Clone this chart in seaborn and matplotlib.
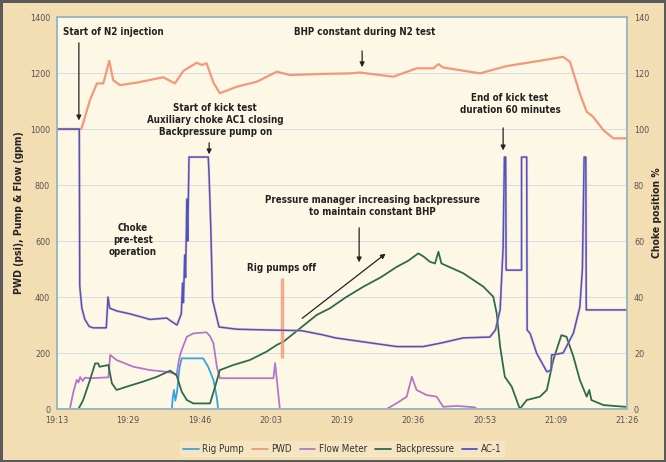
import matplotlib
matplotlib.use("Agg")
import matplotlib.pyplot as plt
from matplotlib.lines import Line2D
import seaborn as sns
import pandas as pd

# --------------------
# Data (time = minutes after 19:13)
# --------------------

tick_labels = ['19:13', '19:29', '19:46', '20:03', '20:19', '20:36', '20:53', '21:09', '21:26']

pwd_t = [0, 5.6, 5.8, 7.7, 9.3, 10.8, 12.2, 13.1, 14.7, 18.6, 24.8, 27.5, 29.5, 32.6, 33.8, 34.9,
         36.5, 38.0, 41.9, 46.6, 51.3, 54.4, 62, 68.4, 70.7, 78.5, 83.9, 87.8, 89.0, 90.1, 98.7,
         104.9, 112.7, 118.1, 119.7, 122.0, 123.6, 125.1, 127.5, 129.8, 133]
pwd_v = [1000, 1000, 1006, 1104, 1163, 1163, 1244, 1175, 1157, 1166, 1185, 1163, 1208, 1237, 1229, 1235,
         1166, 1128, 1151, 1169, 1205, 1193, 1197, 1199, 1202, 1187, 1217, 1217, 1232, 1220, 1199,
         1225, 1244, 1258, 1240, 1127, 1062, 1044, 996, 967, 967]

pump_t = [0, 26.8, 27.0, 27.3, 27.6, 28.0, 28.6, 29.1, 34.1, 35.3, 36.5, 37.3, 37.6, 133]
pump_v = [0, 0, 40, 68, 30, 60, 150, 181, 181, 150, 104, 40, 0, 0]

flow_t = [0, 3.0, 3.8, 4.6, 5.0, 5.4, 6.0, 6.5, 7.7, 12.0, 12.4, 13.9, 17.8, 21.7, 25.6, 27.0, 27.9,
          28.5, 29.1, 30.3, 31.8, 34.9, 35.7, 36.5, 37.3, 38.0, 50.5, 50.9, 51.4, 52.0, 76.9, 79.3,
          81.6, 82.8, 83.9, 86.2, 88.6, 90.1, 93.3, 97.5, 98, 133]
flow_v = [0, 0, 60, 104, 95, 114, 100, 112, 110, 113, 193, 175, 151, 139, 133, 128, 121,
          180, 211, 258, 270, 274, 260, 235, 151, 110, 110, 164, 90, 0, 0, 21,
          44, 115, 68, 50, 44, 8, 11, 6, 0, 0]

bp_t = [0, 5.0, 6.1, 7.7, 8.9, 9.6, 9.9, 12.0, 12.8, 13.9, 16.3, 20.1, 23.3, 26.4, 27.9, 29.1, 30.3,
        31.8, 35.7, 36.9, 38.0, 41.1, 45.0, 48.9, 51.3, 52.8, 56.7, 60.6, 63.7, 67.5, 71.5, 75.5,
        79.3, 82, 84.3, 85.5, 87.0, 88.2, 89.0, 89.7, 94.8, 99.5, 101.8, 102.6, 103.4, 104.5, 106.1,
        108.0, 109.6, 112.7, 114.3, 115.8, 117.7, 118.9, 120.5, 122.0, 123.6, 124.2, 124.7, 127.5,
        132.5, 133]
bp_v = [0, 0, 32, 104, 163, 163, 151, 157, 92, 68, 80, 98, 115, 137, 121, 62, 32,
        20, 20, 80, 139, 157, 175, 205, 229, 240, 288, 336, 360, 400, 437, 470,
        508, 530, 556, 545, 526, 520, 562, 520, 485, 437, 401, 342, 223, 115, 80,
        0, 32, 44, 68, 175, 264, 258, 187, 104, 44, 68, 32, 14,
        8, 8]

# AC-1 choke position in %
ac1_t = [0, 5.2, 5.3, 5.8, 6.5, 7.5, 8.4, 11.5, 11.9, 12.3, 14, 17, 21.7, 25.6, 26.5, 28, 29,
         29.3, 29.5, 29.8, 30.0, 30.3, 30.5, 30.8, 35.3, 35.5, 35.9, 36.3, 37.8, 42, 50, 57, 62,
         65, 71.4, 79.3, 85.4, 89.4, 94.8, 101, 102.3, 103.4, 104.1, 104.4, 104.7, 104.8, 108.4,
         108.4, 109.6, 109.7, 110.4, 111.9, 114.3, 115.3, 115.4, 118.1, 120.5, 122.0, 122.6,
         123.0, 123.4, 123.5, 133]
ac1_v = [100, 100, 44, 36, 32, 29.5, 29, 29, 40, 36, 35, 34, 32, 32.5, 31.5, 30, 34,
         45, 38, 55, 47, 75, 60, 90, 90, 83, 64, 39, 29.3, 28.5, 28.2, 28, 26.5,
         25.4, 24, 22.3, 22.3, 23.5, 25.4, 25.7, 28.2, 35.4, 58, 90, 90, 49.6, 49.6,
         90, 90, 28.2, 27, 20, 13.3, 13.9, 19.3, 20, 27.1, 36.4, 50,
         90, 90, 35.4, 35.4]

pumps_off_t = 52.5

# --------------------
# Style
# --------------------

sns.set_theme(style='white')
plt.rcParams['font.family'] = ['DejaVu Sans']
plt.rcParams['font.stretch'] = 'condensed'

frame_bg = '#f3ddb3'
plot_bg = '#fdf8e6'
spine_c = '#9bb8c0'
txt = '#222222'

colors = {
    'Rig Pump': '#3aa3dc',
    'PWD': '#f4977a',
    'Flow Meter': '#b676c8',
    'Backpressure': '#2f6a4c',
    'AC-1': '#4a55bd',
}

fig = plt.figure(figsize=(6.66, 4.62), dpi=100, facecolor=frame_bg)
fig.patch.set_edgecolor('#5a5a5a')
fig.patch.set_linewidth(2.5)
ax = fig.add_axes([0.0856, 0.1147, 0.8558, 0.8483])
ax.set_facecolor(plot_bg)

df_pump = pd.DataFrame({'t': pump_t, 'v': pump_v})
df_pwd = pd.DataFrame({'t': pwd_t, 'v': pwd_v})
df_flow = pd.DataFrame({'t': flow_t, 'v': flow_v})
df_bp = pd.DataFrame({'t': bp_t, 'v': bp_v})
df_ac1 = pd.DataFrame({'t': ac1_t, 'v': ac1_v})

sns.lineplot(data=df_pump, x='t', y='v', ax=ax, color=colors['Rig Pump'], lw=1.3, estimator=None, sort=False)
sns.lineplot(data=df_flow, x='t', y='v', ax=ax, color=colors['Flow Meter'], lw=1.3, estimator=None, sort=False)
sns.lineplot(data=df_bp, x='t', y='v', ax=ax, color=colors['Backpressure'], lw=1.3, estimator=None, sort=False)
sns.lineplot(data=df_pwd, x='t', y='v', ax=ax, color=colors['PWD'], lw=1.6, estimator=None, sort=False)
ax.vlines(pumps_off_t, 182, 468, color=colors['PWD'], lw=2.5, alpha=0.8)

ax.set_xlim(0, 133)
ax.set_ylim(0, 1400)
ax.set_yticks(range(0, 1401, 200))
ax.set_xticks([133 * i / 8 for i in range(9)])
ax.set_xticklabels(tick_labels)
ax.yaxis.grid(True, color='#cfdde3', lw=0.7)
ax.set_axisbelow(True)
ax.set_xlabel('')
ax.set_ylabel('PWD (psi), Pump & Flow (gpm)', fontsize=7.5, fontweight='bold', color=txt, labelpad=4)
ax.tick_params(length=0, labelsize=6.5, labelcolor='#555555', pad=5)
for s in ax.spines.values():
    s.set_color(spine_c)
    s.set_linewidth(1.2)

ax2 = ax.twinx()
sns.lineplot(data=df_ac1, x='t', y='v', ax=ax2, color='#f0a8b8', lw=2.0, alpha=0.5, estimator=None, sort=False)
sns.lineplot(data=df_ac1, x='t', y='v', ax=ax2, color=colors['AC-1'], lw=1.1, estimator=None, sort=False)
ax2.set_ylim(0, 140)
ax2.set_yticks(range(0, 141, 20))
ax2.set_ylabel('Choke position %', fontsize=7.5, fontweight='bold', color=txt, labelpad=2)
ax2.tick_params(length=0, labelsize=6.5, labelcolor='#555555', pad=5)
ax2.grid(False)
for s in ax2.spines.values():
    s.set_color(spine_c)
    s.set_linewidth(1.2)

# --------------------
# Annotations
# --------------------

fs = 7
kw = dict(fontsize=fs, fontweight='bold', color=txt, linespacing=1.25)
arr = dict(arrowstyle='-|>', color='#222222', lw=0.9, mutation_scale=7)

ax.text(1.4, 1346, 'Start of N2 injection', ha='left', va='center', **kw)
ax.annotate('', xy=(5.1, 1021), xytext=(5.1, 1318), arrowprops=arr)

ax.text(71.9, 1346, 'BHP constant during N2 test', ha='center', va='center', **kw)
ax.annotate('', xy=(71.2, 1211), xytext=(71.2, 1289), arrowprops=arr)

ax.text(36.9, 1032, 'Start of kick test\nAuxiliary choke AC1 closing\nBackpressure pump on',
        ha='center', va='center', **kw)
ax.annotate('', xy=(35.5, 900), xytext=(35.5, 961), arrowprops=arr)

ax.text(17.7, 604, 'Choke\npre-test\noperation', ha='center', va='center', **kw)

ax.text(73.5, 725, 'Pressure manager increasing backpressure\nto maintain constant BHP',
        ha='center', va='center', **kw)
ax.annotate('', xy=(70.5, 514), xytext=(70.5, 657), arrowprops=arr)
ax.annotate('', xy=(77.2, 561), xytext=(56.7, 318), arrowprops=arr)

ax.text(52.5, 504, 'Rig pumps off', ha='center', va='center', **kw)

ax.text(105.7, 1089, 'End of kick test\nduration 60 minutes', ha='center', va='center', **kw)
ax.annotate('', xy=(104.1, 914), xytext=(104.1, 1014), arrowprops=arr)

# --------------------
# Legend
# --------------------

handles = [Line2D([], [], color=c, lw=1.3) for c in colors.values()]
leg = fig.legend(handles, list(colors.keys()), loc='center', bbox_to_anchor=(0.514, 0.028),
                 ncol=5, fontsize=7, frameon=True, handlelength=1.6, handletextpad=0.4,
                 columnspacing=0.8, borderpad=0.3)
leg.get_frame().set_facecolor('#f7e8c8')
leg.get_frame().set_edgecolor('none')
for t in leg.get_texts():
    t.set_color('#333333')

fig.savefig('out.png', dpi=100, facecolor=fig.get_facecolor(), edgecolor=fig.get_edgecolor())
